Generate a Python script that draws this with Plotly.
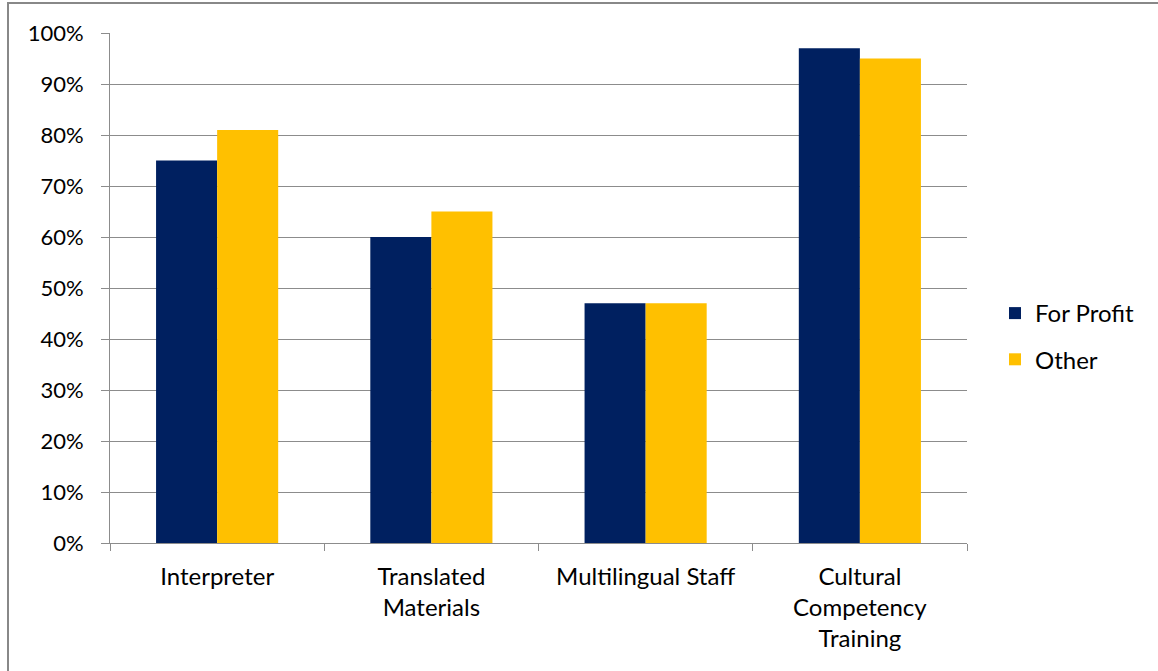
import plotly.graph_objects as go

categories = ["Interpreter", "Translated<br>Materials", "Multilingual Staff", "Cultural<br>Competency<br>Training"]
for_profit = [0.75, 0.60, 0.47, 0.97]
other = [0.81, 0.65, 0.47, 0.95]
ytick_vals = [0, 0.1, 0.2, 0.3, 0.4, 0.5, 0.6, 0.7, 0.8, 0.9, 1.0]
ytick_text = ["0%", "10%", "20%", "30%", "40%", "50%", "60%", "70%", "80%", "90%", "100%"]

FONT = "Lato, Carlito, Calibri, sans-serif"
GRID = "#8c8c8c"

fig = go.Figure()
fig.add_trace(go.Bar(name="For Profit", x=categories, y=for_profit,
                     marker=dict(color="#002060", line=dict(width=0)), legendgroup="a"))
fig.add_trace(go.Bar(name="Other", x=categories, y=other,
                     marker=dict(color="#FFC000", line=dict(width=0)), legendgroup="b"))

L, R, T, B = 110, 191, 33, 128
W, H = 1158, 671
pw, ph = W - L - R, H - T - B

def px_x(px):
    return (px - L) / pw

def px_y(py):
    return (H - B - py) / ph

fig.update_layout(
    width=W, height=H,
    margin=dict(l=L, r=R, t=T, b=B, pad=0),
    paper_bgcolor="white", plot_bgcolor="white",
    barmode="group", bargap=0.43, bargroupgap=0,
    font=dict(family=FONT, size=22, color="#000000"),
    xaxis=dict(showgrid=False, showline=True, linecolor=GRID, linewidth=1,
               ticks="outside", tickson="boundaries", ticklen=7, tickcolor=GRID,
               tickfont=dict(size=24), range=[-0.5, 3.5], ticklabelstandoff=12),
    yaxis=dict(range=[0, 1.0], tickvals=ytick_vals, ticktext=ytick_text,
               showgrid=True, gridcolor=GRID, gridwidth=1, zeroline=False,
               showline=True, linecolor=GRID, linewidth=1,
               ticks="outside", ticklen=8, tickcolor=GRID, tickfont=dict(size=22),
               ticklabelstandoff=13),
    legend=dict(x=px_x(995), y=px_y(291), xanchor="left", yanchor="top",
                font=dict(size=24), tracegroupgap=12, itemwidth=30,
                bgcolor="rgba(0,0,0,0)"),
    showlegend=True,
    shapes=[dict(type="rect", xref="paper", yref="paper",
                 x0=px_x(8), x1=px_x(W + 10), y0=px_y(H + 10), y1=px_y(3),
                 line=dict(color="#888888", width=2), layer="below")],
)

fig.write_html("out.html")
